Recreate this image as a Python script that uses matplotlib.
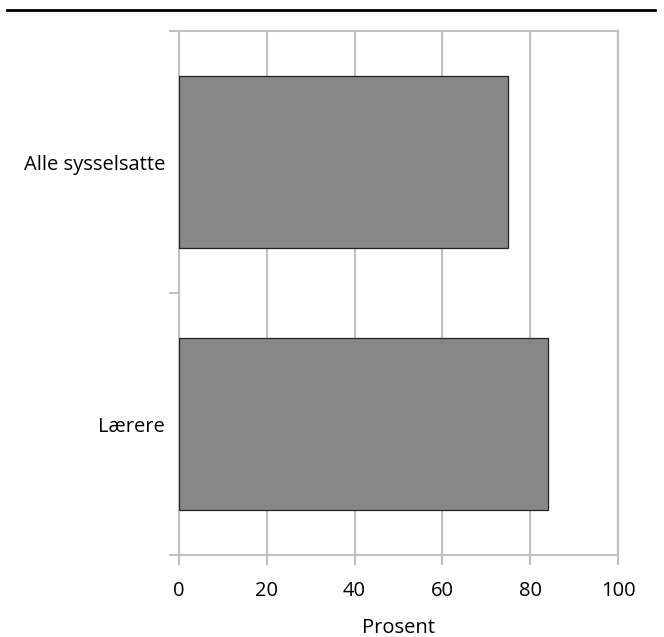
import matplotlib.pyplot as plt
from matplotlib.lines import Line2D

categories = ['Lærere', 'Alle sysselsatte']
values = [84, 75]
xticks = [0, 20, 40, 60, 80, 100]

plt.rcParams['font.family'] = ['Open Sans', 'DejaVu Sans']

fig = plt.figure(figsize=(6.64, 6.37), dpi=100)
ax = fig.add_axes([179/664, 1-555/637, (618-179)/664, (555-31)/637])

grey = '#c0c0c0'
ax.barh(range(len(categories)), values, height=0.66, color='#878787',
        edgecolor='#222222', linewidth=0.9, zorder=3)

ax.set_xlim(0, 100)
ax.set_ylim(-0.5, 1.5)
ax.set_xticks(xticks)
ax.set_xticklabels([str(v) for v in xticks], fontsize=14.5)
ax.set_yticks([0, 1])
ax.set_yticklabels(categories, fontsize=14.5)
ax.set_yticks([-0.5, 0.5, 1.5], minor=True)
ax.tick_params(axis='y', which='major', length=0, pad=10)
ax.tick_params(axis='y', which='minor', length=7, width=1.5, color=grey)
ax.tick_params(axis='x', length=7, width=1.5, color=grey, pad=12)
ax.grid(axis='x', color=grey, linewidth=1.5, zorder=0)
for s in ax.spines.values():
    s.set_color(grey)
    s.set_linewidth(1.5)
ax.set_xlabel('Prosent', fontsize=14.5, labelpad=12)

fig.add_artist(Line2D([7/664, 655/664], [1-10/637, 1-10/637], color='black',
                      linewidth=2, transform=fig.transFigure))

fig.savefig('out.png', dpi=100)
